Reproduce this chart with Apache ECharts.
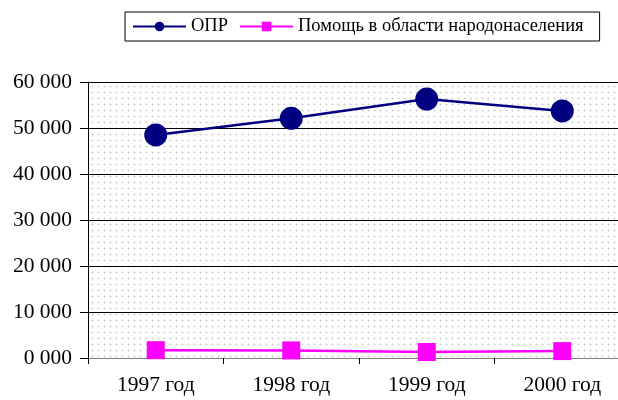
<!DOCTYPE html>
<html>
<head>
<meta charset="utf-8">
<script src="https://cdn.jsdelivr.net/npm/echarts@6/dist/echarts.min.js"></script>
<style>
  html, body { margin: 0; padding: 0; background: #fff; }
  #main { width: 618px; height: 400px; }
</style>
</head>
<body>
<div id="main"></div>
<script>
var years = ['1997 год', '1998 год', '1999 год', '2000 год'];
var opr = [48500, 52100, 56300, 53700];
var population = [1700, 1650, 1300, 1500];
var yTicks = [0, 10000, 20000, 30000, 40000, 50000, 60000];

// dotted background like the original plot area
var dots = document.createElement('canvas');
dots.width = 6;
dots.height = 6;
var ctx = dots.getContext('2d');
ctx.fillStyle = '#fff';
ctx.fillRect(0, 0, 6, 6);
ctx.fillStyle = '#cccccc';
ctx.fillRect(2, 2, 1, 1);
ctx.fillStyle = '#e8e8e8';
ctx.fillRect(1, 2, 1, 1);
ctx.fillRect(3, 2, 1, 1);
ctx.fillRect(2, 1, 1, 1);
ctx.fillRect(2, 3, 1, 1);

var chartDom = document.getElementById('main');
var myChart = echarts.init(chartDom);
var font = '"Liberation Serif", "Times New Roman", serif';
var option;

option = {
    backgroundColor: '#fff',
    animation: false,
    legend: {
        left: 125,
        top: 12,
        padding: [5, 16, 5, 7],
        borderColor: '#000',
        borderWidth: 1,
        itemWidth: 53,
        itemHeight: 12,
        itemGap: 11,
        textStyle: {fontFamily: font, fontSize: 18.5, color: '#000', lineHeight: 19},
        data: ['ОПР', 'Помощь в области народонаселения']
    },
    grid: {
        left: 88,
        width: 542,
        top: 82,
        bottom: 42,
        outerBoundsMode: 'none',
        show: true,
        borderWidth: 0,
        backgroundColor: {image: dots, repeat: 'repeat'}
    },
    xAxis: {
        type: 'category',
        data: years,
        boundaryGap: true,
        axisLine: {lineStyle: {color: '#808080', width: 1}},
        axisTick: {show: true, length: 6, lineStyle: {color: '#000'}},
        axisLabel: {fontFamily: font, fontSize: 21.5, color: '#000', margin: 16}
    },
    yAxis: {
        type: 'value',
        min: yTicks[0],
        max: yTicks[yTicks.length - 1],
        interval: 10000,
        axisLine: {show: true, lineStyle: {color: '#000', width: 1}},
        axisTick: {show: true, length: 8, lineStyle: {color: '#000'}},
        splitLine: {show: true, lineStyle: {color: '#000', width: 1}},
        axisLabel: {
            fontFamily: font, fontSize: 21.5, color: '#000', margin: 16,
            formatter: function (v) { return (v / 1000) + ' 000'; }
        }
    },
    series: [
        {
            name: 'ОПР',
            type: 'line',
            data: opr,
            symbol: 'circle',
            symbolSize: 23,
            itemStyle: {color: '#000080'},
            lineStyle: {color: '#000080', width: 2.5}
        },
        {
            name: 'Помощь в области народонаселения',
            type: 'line',
            data: population,
            symbol: 'rect',
            symbolSize: 18,
            itemStyle: {color: '#ff00ff'},
            lineStyle: {color: '#ff00ff', width: 2.5}
        }
    ]
};

option && myChart.setOption(option);
</script>
</body>
</html>
